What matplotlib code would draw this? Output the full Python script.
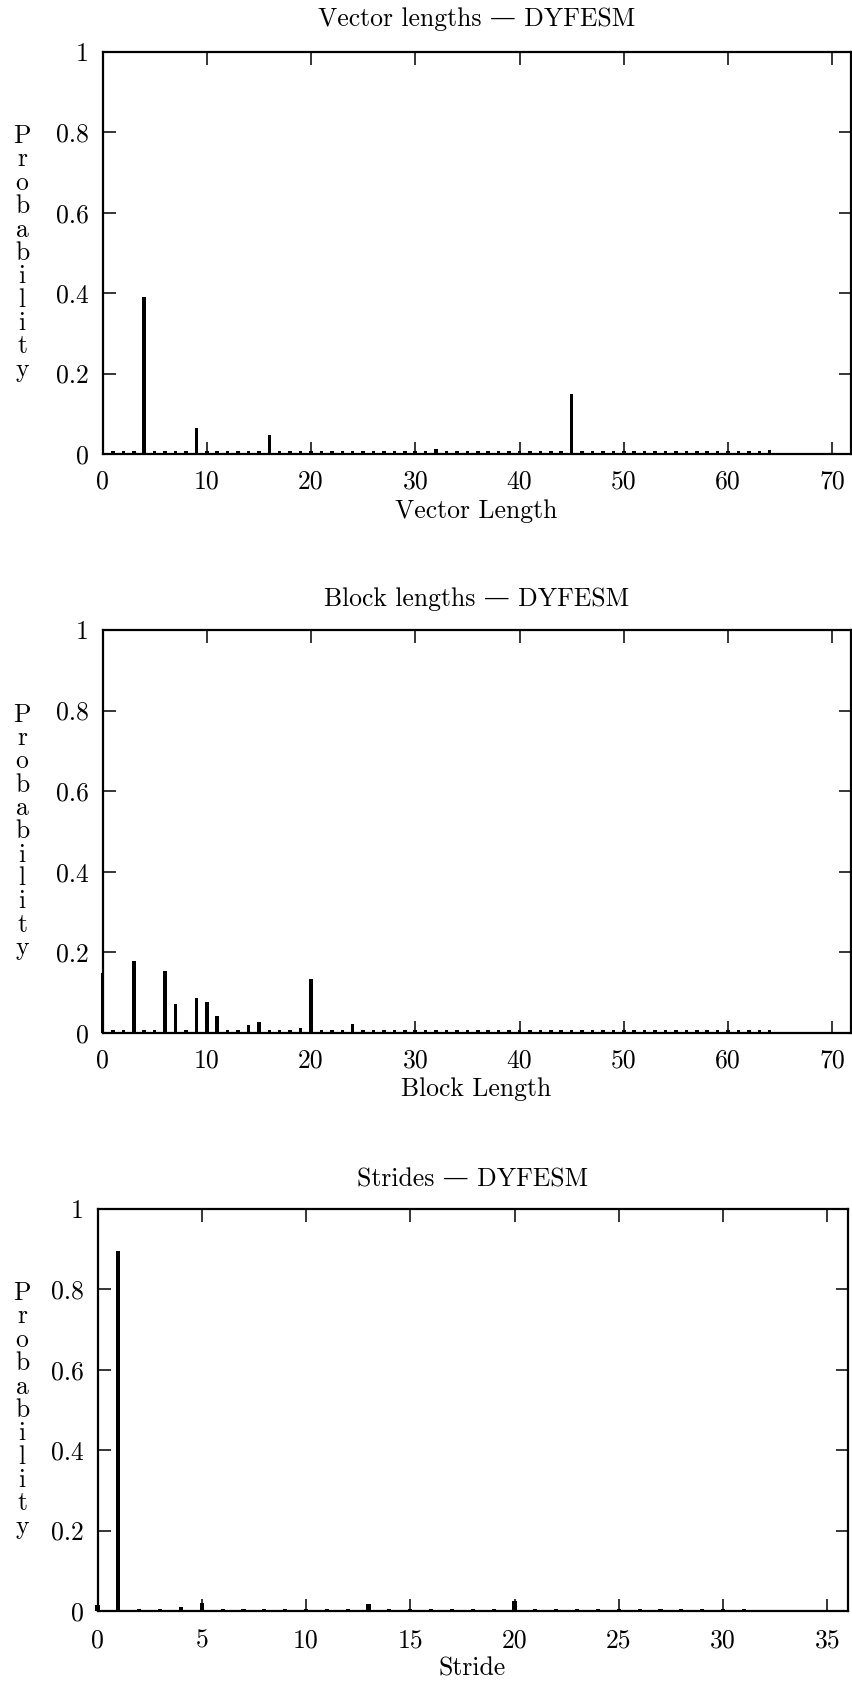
import numpy as np
import matplotlib
matplotlib.use("Agg")
import matplotlib.pyplot as plt

plt.rcParams["font.family"] = ["cmr10", "DejaVu Serif"]
plt.rcParams["mathtext.fontset"] = "cm"
plt.rcParams["axes.unicode_minus"] = False
plt.rcParams["axes.formatter.use_mathtext"] = False

# ---- data -------------------------------------------------------------
vector_len = list(range(1, 65))
vector_prob = [0.007, 0.007, 0.007, 0.390, 0.007, 0.007, 0.007, 0.007,
               0.064, 0.007, 0.007, 0.007, 0.007, 0.007, 0.007, 0.047,
               0.007, 0.007, 0.007, 0.007, 0.007, 0.007, 0.007, 0.007,
               0.007, 0.007, 0.007, 0.007, 0.007, 0.007, 0.007, 0.012,
               0.007, 0.007, 0.007, 0.007, 0.007, 0.007, 0.007, 0.007,
               0.007, 0.007, 0.007, 0.007, 0.150, 0.007, 0.007, 0.007,
               0.007, 0.007, 0.007, 0.007, 0.007, 0.007, 0.007, 0.007,
               0.007, 0.007, 0.007, 0.007, 0.007, 0.007, 0.007, 0.009]

block_len = list(range(0, 65))
block_prob = [0.150, 0.007, 0.007, 0.179, 0.007, 0.007, 0.153, 0.072,
              0.007, 0.087, 0.077, 0.042, 0.007, 0.007, 0.020, 0.028,
              0.007, 0.007, 0.007, 0.012, 0.134, 0.007, 0.007, 0.007,
              0.022, 0.007, 0.007, 0.007, 0.007, 0.007, 0.007, 0.007,
              0.007, 0.007, 0.007, 0.007, 0.007, 0.007, 0.007, 0.007,
              0.007, 0.007, 0.007, 0.007, 0.007, 0.007, 0.007, 0.007,
              0.007, 0.007, 0.007, 0.007, 0.007, 0.007, 0.007, 0.007,
              0.007, 0.007, 0.007, 0.007, 0.007, 0.007, 0.007, 0.007,
              0.007]

stride = list(range(0, 32))
stride_prob = [0.015, 0.895, 0.006, 0.006, 0.010, 0.021, 0.006, 0.006,
               0.006, 0.006, 0.006, 0.006, 0.006, 0.017, 0.006, 0.006,
               0.006, 0.006, 0.006, 0.006, 0.025, 0.006, 0.006, 0.006,
               0.006, 0.006, 0.006, 0.006, 0.006, 0.006, 0.006, 0.006]

y_ticks = [0, 0.2, 0.4, 0.6, 0.8, 1]
y_ticklabels = ["0", "0.2", "0.4", "0.6", "0.8", "1"]

panels = [
    dict(title="Vector lengths \u2014 DYFESM", xlabel="Vector Length",
         x=vector_len, p=vector_prob, xmax=71.75, xticks=list(range(0, 71, 10)),
         rect=(102.5, 52, 850.5, 454), bw=0.34, title_y=19, tick_y=482, xlabel_y=511),
    dict(title="Block lengths \u2014 DYFESM", xlabel="Block Length",
         x=block_len, p=block_prob, xmax=71.75, xticks=list(range(0, 71, 10)),
         rect=(102.5, 630, 850.5, 1033), bw=0.34, title_y=599, tick_y=1061, xlabel_y=1089),
    dict(title="Strides \u2014 DYFESM", xlabel="Stride",
         x=stride, p=stride_prob, xmax=35.98, xticks=list(range(0, 36, 5)),
         rect=(97.5, 1209, 847.7, 1611), bw=0.2, title_y=1180, tick_y=1641, xlabel_y=1669),
]

W, H = 852, 1687
fig = plt.figure(figsize=(W / 100, H / 100), dpi=100)
FS = 18.5

for pn in panels:
    l, t, r, b = pn["rect"]
    ax = fig.add_axes([l / W, 1 - b / H, (r - l) / W, (b - t) / H])
    ax.bar(pn["x"], pn["p"], width=pn["bw"], color="black", linewidth=0,
           zorder=3, clip_on=False)
    ax.set_xlim(0, pn["xmax"])
    ax.set_ylim(0, 1)
    ax.set_yticks(y_ticks)
    ax.set_yticklabels(y_ticklabels)
    ax.set_xticks(pn["xticks"])
    ax.set_xticklabels([])
    for s in ax.spines.values():
        s.set_linewidth(1.6)
    ax.tick_params(direction="in", length=9, width=1.1, top=True, right=True,
                   labelsize=FS, pad=10)
    ax.tick_params(axis="x", labelbottom=False)
    # x tick labels, title and axis labels placed at fixed positions
    for xv in pn["xticks"]:
        xf = (l + (xv / pn["xmax"]) * (r - l)) / W
        fig.text(xf, 1 - pn["tick_y"] / H, str(xv), ha="center", va="center", fontsize=FS)
    cx = (l + r) / 2 / W
    fig.text(cx, 1 - pn["title_y"] / H, pn["title"], ha="center", va="center", fontsize=FS)
    fig.text(cx, 1 - pn["xlabel_y"] / H, pn["xlabel"], ha="center", va="center", fontsize=FS)
    fig.text(22 / W, 1 - ((t + b) / 2) / H, "\n".join("Probability"),
             ha="center", va="center", fontsize=FS, linespacing=0.98)

fig.savefig("out.png", dpi=100)
